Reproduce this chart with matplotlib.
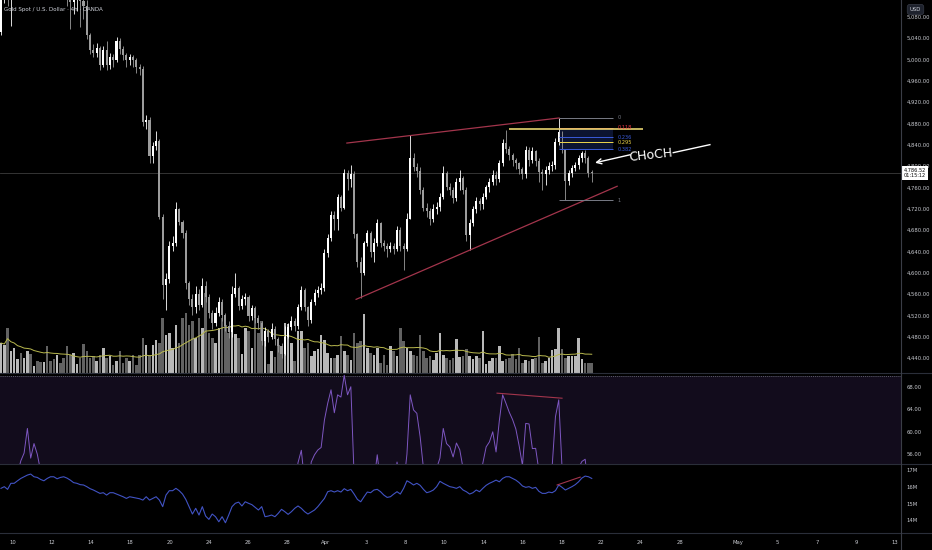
import matplotlib
matplotlib.use("Agg")
import matplotlib.pyplot as plt
from matplotlib.lines import Line2D
import numpy as np
import pandas as pd

# ---- data (4h XAUUSD bars) ----
first_open = 5052
closes = [5118, 5125, 5120, 5130, 5140, 5150, 5145, 5158, 5165, 5155,
          5170, 5162, 5150, 5160, 5148, 5140, 5135, 5145, 5138, 5128,
          5120, 5108, 5118, 5122, 5110, 5100, 5045, 5018, 5012, 5022,
          4990, 5017, 4990, 5005, 4998, 5035, 5020, 5008, 4998, 5004,
          4999, 4985, 4982, 4882, 4886, 4818, 4838, 4846, 4705, 4577,
          4588, 4650, 4655, 4720, 4695, 4675, 4580, 4550, 4535, 4560,
          4540, 4575, 4555, 4525, 4505, 4525, 4545, 4520, 4500, 4488,
          4560, 4572, 4538, 4550, 4555, 4518, 4534, 4515, 4505, 4472,
          4490, 4480, 4495, 4475, 4462, 4448, 4480, 4498, 4510, 4500,
          4535, 4567, 4535, 4512, 4545, 4562, 4568, 4572, 4637, 4665,
          4708, 4700, 4742, 4722, 4787, 4775, 4785, 4672, 4620, 4600,
          4655, 4675, 4638, 4656, 4693, 4655, 4650, 4645, 4650, 4645,
          4680, 4650, 4645, 4700, 4815, 4798, 4790, 4755, 4722, 4715,
          4700, 4720, 4724, 4742, 4787, 4760, 4755, 4740, 4770, 4778,
          4755, 4670, 4693, 4720, 4735, 4728, 4742, 4760, 4770, 4783,
          4775, 4806, 4843, 4832, 4820, 4812, 4805, 4795, 4785, 4830,
          4812, 4828, 4810, 4788, 4785, 4792, 4800, 4802, 4845, 4864,
          4830, 4772, 4787, 4796, 4802, 4815, 4824, 4815, 4787, 4786.52]
highs = [5140, 5150, 5145, 5150, 5160, 5168, 5165, 5175, 5185, 5178,
         5190, 5185, 5172, 5180, 5170, 5160, 5158, 5165, 5160, 5150,
         5145, 5140, 5135, 5140, 5130, 5125, 5112, 5050, 5028, 5030,
         5025, 5025, 5035, 5012, 5010, 5042, 5040, 5025, 5012, 5010,
         5008, 5002, 4992, 4988, 4895, 4892, 4845, 4865, 4850, 4710,
         4600, 4660, 4668, 4732, 4722, 4698, 4680, 4585, 4560, 4575,
         4570, 4590, 4585, 4560, 4530, 4535, 4555, 4550, 4525, 4510,
         4575, 4600, 4575, 4558, 4562, 4558, 4540, 4538, 4520, 4510,
         4498, 4495, 4505, 4500, 4480, 4468, 4500, 4505, 4518, 4515,
         4542, 4575, 4572, 4538, 4550, 4570, 4575, 4580, 4645, 4672,
         4715, 4715, 4748, 4745, 4795, 4792, 4802, 4790, 4675, 4630,
         4660, 4680, 4678, 4665, 4700, 4695, 4662, 4655, 4657, 4655,
         4688, 4685, 4655, 4712, 4858, 4825, 4805, 4798, 4760, 4730,
         4722, 4728, 4732, 4750, 4800, 4790, 4768, 4760, 4778, 4792,
         4782, 4760, 4700, 4725, 4742, 4740, 4750, 4765, 4778, 4792,
         4790, 4812, 4850, 4868, 4838, 4825, 4815, 4808, 4798, 4838,
         4835, 4835, 4830, 4815, 4795, 4800, 4808, 4810, 4852, 4890,
         4866, 4832, 4792, 4802, 4808, 4820, 4828, 4830, 4818, 4792]
lows = [5045, 5105, 5100, 5062, 5118, 5128, 5125, 5135, 5140, 5135,
        5148, 5140, 5130, 5138, 5125, 5120, 5116, 5118, 5115, 5114,
        5100, 5056, 5085, 5090, 5060, 5075, 5038, 5010, 5005, 5005,
        4980, 4985, 4980, 4982, 4985, 4995, 5010, 4998, 4985, 4990,
        4985, 4975, 4970, 4875, 4870, 4805, 4805, 4830, 4700, 4550,
        4530, 4580, 4640, 4650, 4690, 4665, 4570, 4540, 4520, 4525,
        4530, 4535, 4545, 4515, 4495, 4500, 4518, 4510, 4490, 4478,
        4480, 4555, 4530, 4532, 4540, 4510, 4512, 4505, 4495, 4465,
        4462, 4470, 4475, 4465, 4452, 4440, 4445, 4478, 4492, 4490,
        4495, 4530, 4528, 4500, 4505, 4540, 4555, 4560, 4565, 4630,
        4660, 4680, 4680, 4715, 4720, 4755, 4760, 4665, 4610, 4552,
        4595, 4650, 4630, 4620, 4650, 4648, 4640, 4630, 4638, 4635,
        4640, 4640, 4605, 4640, 4700, 4790, 4780, 4748, 4715, 4705,
        4690, 4695, 4710, 4715, 4738, 4755, 4745, 4730, 4735, 4755,
        4748, 4660, 4642, 4688, 4712, 4718, 4720, 4738, 4752, 4765,
        4765, 4770, 4800, 4825, 4812, 4800, 4795, 4785, 4775, 4778,
        4800, 4805, 4800, 4770, 4755, 4765, 4785, 4790, 4795, 4840,
        4825, 4736, 4765, 4780, 4790, 4795, 4808, 4805, 4780, 4770]
volume_k = [30, 28, 45, 22, 25, 14, 20, 15, 22, 19,
            7, 12, 11, 11, 27, 12, 14, 18, 10, 15,
            27, 18, 20, 9, 15, 29, 22, 15, 17, 12,
            18, 25, 15, 17, 8, 12, 22, 10, 15, 12,
            18, 8, 18, 35, 28, 18, 28, 33, 30, 55,
            38, 40, 25, 48, 30, 55, 60, 48, 52, 35,
            55, 45, 80, 40, 35, 30, 45, 55, 48, 40,
            75, 39, 35, 19, 45, 42, 25, 55, 40, 52,
            39, 9, 22, 16, 28, 19, 50, 49, 30, 12,
            42, 42, 25, 30, 17, 22, 24, 38, 33, 20,
            15, 15, 18, 37, 22, 18, 13, 40, 30, 32,
            59, 25, 20, 18, 25, 10, 18, 8, 27, 22,
            17, 45, 32, 25, 22, 18, 17, 38, 22, 15,
            17, 13, 20, 40, 18, 15, 13, 15, 34, 16,
            17, 24, 17, 14, 17, 15, 42, 9, 12, 15,
            15, 27, 12, 14, 15, 19, 14, 25, 10, 13,
            12, 14, 15, 36, 10, 12, 15, 23, 24, 45,
            24, 15, 17, 17, 17, 35, 14, 10, 10, 10]
rsi = [52, 53, 52.5, 53, 51.5, 52.5, 54.8, 56.2, 60.6, 55.3,
       57.9, 56.0, 53.0, 51.5, 50, 48.5, 48, 50, 49, 47.5,
       46.5, 44.5, 46, 47, 45, 43.5, 37, 34.5, 34, 35.5,
       32.5, 36, 33, 35, 34.5, 39, 37.5, 36, 35, 36,
       35.5, 34, 33.5, 26, 27, 23, 26, 27, 20, 15,
       17, 26, 27, 35, 33, 31.5, 25, 23.5, 23, 26,
       25, 29, 28, 26, 25, 27.5, 30, 28, 26.5, 25.5,
       34, 35.5, 32.5, 34, 34.5, 31.5, 33.5, 32, 31, 29,
       31.5, 30.5, 33, 31, 30, 29, 45, 48, 51, 50,
       54.5, 56.7, 51, 48, 54.6, 55.9, 56.75, 57.2, 62.1, 65.1,
       67.5, 63.4, 66.6, 66.2, 70.1, 66.6, 68.05, 52, 46, 44,
       50, 52.5, 48.5, 51, 55.9, 51, 50.5, 50, 50.8, 50.2,
       54.6, 51, 50.5, 56.0, 66.6, 63.9, 63.3, 59.1, 53.5, 52.5,
       50.5, 53, 53.5, 55.3, 60.6, 57.9, 57.3, 55.5, 58.0, 56.8,
       53.5, 45, 48, 51, 52.5, 51.5, 54.4, 57.3, 58.2, 60.0,
       56.4, 62.0, 66.6, 65.1, 63.5, 62.2, 60.5, 57.5, 54.0, 61.5,
       61.4, 57.0, 57.05, 53.0, 51.5, 52.5, 53.5, 53.8, 62.7, 65.7,
       53.5, 45, 48, 50, 51, 53.5, 54.7, 55.1, 50, 49.5]
obv_m = [15.91, 16.01, 15.85, 16.21, 16.21, 16.36, 16.50, 16.60, 16.70, 16.76,
         16.60, 16.56, 16.44, 16.36, 16.50, 16.60, 16.60, 16.48, 16.56, 16.60,
         16.52, 16.40, 16.25, 16.21, 16.13, 16.11, 16.01, 15.89, 15.81, 15.71,
         15.61, 15.65, 15.51, 15.65, 15.65, 15.57, 15.49, 15.41, 15.31, 15.41,
         15.37, 15.33, 15.29, 15.21, 15.41, 15.21, 15.31, 15.41, 15.21, 14.82,
         15.51, 15.77, 15.77, 15.91, 15.77, 15.57, 15.25, 14.82, 14.38, 14.72,
         14.32, 14.82, 14.26, 14.06, 14.38, 14.22, 13.92, 14.22, 13.86, 14.32,
         14.82, 15.02, 15.09, 14.86, 15.11, 15.02, 14.94, 14.78, 14.62, 14.82,
         14.22, 14.26, 14.32, 14.22, 14.42, 14.66, 14.52, 14.36, 14.52, 14.72,
         14.86, 14.72, 14.52, 14.38, 14.50, 14.62, 14.82, 15.06, 15.31, 15.71,
         15.77, 15.69, 15.77, 15.69, 15.89, 15.77, 15.85, 15.57, 15.25, 15.11,
         15.41, 15.69, 15.65, 15.81, 15.85, 15.71, 15.51, 15.37, 15.41, 15.57,
         15.71, 15.57, 15.91, 16.36, 16.25, 16.11, 16.21, 16.09, 15.85, 15.65,
         15.71, 15.81, 16.01, 16.33, 16.21, 16.11, 16.01, 15.97, 15.91, 16.01,
         15.81, 15.71, 15.57, 15.65, 15.81, 15.71, 15.91, 16.09, 16.21, 16.30,
         16.40, 16.30, 16.50, 16.60, 16.60, 16.50, 16.40, 16.25, 16.05, 15.97,
         16.01, 15.91, 15.97, 15.73, 15.61, 15.61, 15.69, 15.65, 15.77, 16.11,
         15.97, 15.81, 15.91, 16.01, 16.13, 16.30, 16.52, 16.64, 16.60, 16.50]

date_labels = ["10", "12", "14", "18", "20", "24", "26", "28", "Apr", "3", "8", "10",
               "14", "16", "18", "22", "24", "28", "May", "5", "7", "9", "13"]
date_pos = [3.6, 15.5, 27.3, 39.1, 51.2, 63.0, 74.8, 86.7, 98.5, 110.6, 122.4, 134.2,
            146.3, 158.2, 170.0, 181.8, 193.6, 205.7, 223.3, 235.3, 247.3, 259.1, 270.9]
price_ticks = list(range(4440, 5081, 40))

# drawings
wedge_top = ([104.8, 169.1], [4843, 4890])
wedge_bottom = ([107.6, 186.7], [4550, 4762])
rsi_div = ([150.3, 170.0], [66.9, 66.0])
obv_div = ([168.5, 175.5], [16.11, 16.58])
fib_high, fib_low = 4890, 4736
fib_levels = [0, 0.118, 0.236, 0.295, 0.382, 1]
fib_colors = ["#787b86", "#f23645", "#3a5bd9", "#f0d84a", "#3a5bd9", "#787b86"]
fib_span = (169, 185.5)
yellow_level = 4870
yellow_span = (154, 194.5)

BG = "#000000"
TXT = "#c8cad0"
GRID = "#2a2e39"
UP, DOWN = "#ffffff", "#9c9c9c"
VUP, VDOWN = "#b8b8b8", "#626262"
RED = "#a3354c"

plt.rcParams["font.family"] = ["DejaVu Sans"]
plt.rcParams["font.size"] = 3.8

fig = plt.figure(figsize=(9.32, 5.5), dpi=100, facecolor=BG)
W, H = 932.0, 550.0
right = 901 / W
ax = fig.add_axes([0, 1 - 373 / H, right, 373 / H])
axr = fig.add_axes([0, 1 - 464 / H, right, 91 / H], sharex=ax)
axo = fig.add_axes([0, 1 - 533 / H, right, 69 / H], sharex=ax)

idx = np.arange(len(closes))
c = np.array(closes, dtype=float)
o = np.array([first_open] + closes[:-1], dtype=float)
h = np.maximum(np.array(highs, dtype=float), np.maximum(o, c))
l = np.minimum(np.array(lows, dtype=float), np.minimum(o, c))
up = c >= o
ccol = np.where(up, UP, DOWN)

# volume overlay
axv = ax.twinx()
axv.bar(idx, volume_k, width=0.78, color=np.where(up, VUP, VDOWN), linewidth=0)
vma = pd.Series(volume_k).rolling(20, min_periods=1).mean()
axv.plot(idx, vma, color="#b9b94e", lw=0.7)
axv.set_ylim(0, 373)
axv.axis("off")
ax.set_zorder(axv.get_zorder() + 1)
ax.patch.set_visible(False)

# candles
ax.vlines(idx, l, h, colors=ccol, lw=0.6)
ax.bar(idx, np.maximum(np.abs(c - o), 1.5), bottom=np.minimum(o, c), width=0.62,
       color=ccol, linewidth=0)
ax.axhline(c[-1], color="#3c3c3c", lw=0.6, zorder=0)

ax.plot(*wedge_top, color=RED, lw=0.9)
ax.plot(*wedge_bottom, color=RED, lw=0.9)

rng = fib_high - fib_low
fib_prices = [fib_high - lv * rng for lv in fib_levels]
ax.fill_between(fib_span, fib_prices[1], fib_prices[4], color="#0c1430", lw=0)
for lv, pr, col in zip(fib_levels, fib_prices, fib_colors):
    ax.hlines(pr, *fib_span, colors=col, lw=0.7)
    ax.text(fib_span[1] + 1.2, pr, f"{lv:g}", color=col, fontsize=3.6, va="center")
ax.hlines(yellow_level, *yellow_span, colors="#e6d36f", lw=1.2)

# CHoCH note
ax.annotate("", xy=(180.0, 4806), xytext=(190.6, 4821),
            arrowprops=dict(arrowstyle="->", color="white", lw=1.0,
                            shrinkA=0, shrinkB=0, mutation_scale=9))
ax.text(197.0, 4820.5, "CHoCH", color="white", fontsize=9, rotation=6,
        ha="center", va="center", family=["Liberation Sans Narrow", "DejaVu Sans"])
ax.plot([203.7, 214.8], [4825, 4840], color="white", lw=1.0)

ax.set_ylim(4411.9, 5111.2)
ax.set_xlim(-0.3, 272.7)
ax.yaxis.tick_right()
ax.set_yticks(price_ticks, [f"{p:,.2f}" for p in price_ticks])
ax.text(1.003, c[-1], f"{c[-1]:,.2f}\n01:15:12", transform=ax.get_yaxis_transform(),
        color="black", fontsize=3.6, va="center", ha="left", linespacing=1.15,
        bbox=dict(boxstyle="square,pad=0.35", fc="white", ec="none"), clip_on=False)

# RSI pane
axr.fill_between([-5, 300], 30, 70, color="#120c1c", lw=0)
axr.axhline(70, color="#787b86", lw=0.5, ls=(0, (1.5, 1.5)))
axr.plot(idx, rsi, color="#7e57c2", lw=0.7)
axr.plot(*rsi_div, color=RED, lw=0.8)
axr.set_ylim(54.25, 70.5)
axr.yaxis.tick_right()
axr.set_yticks([56, 60, 64, 68], ["56.00", "60.00", "64.00", "68.00"])

# OBV pane
axo.plot(idx, obv_m, color="#4153c4", lw=0.8)
axo.plot(*obv_div, color=RED, lw=0.8)
axo.set_ylim(13.25, 17.36)
axo.yaxis.tick_right()
axo.set_yticks([14, 15, 16, 17], ["14M", "15M", "16M", "17M"])
axo.set_xticks(date_pos, date_labels)

for a in (ax, axr, axo):
    a.set_facecolor(BG)
    for s in a.spines.values():
        s.set_visible(False)
    a.tick_params(axis="y", length=0, pad=4, colors=TXT, labelsize=3.8)
    a.tick_params(axis="x", length=0, colors=TXT, labelsize=3.8, pad=5)
ax.tick_params(axis="x", labelbottom=False)
axr.tick_params(axis="x", labelbottom=False)
ax.patch.set_visible(False)

for yy in (373, 464, 533):
    fig.add_artist(Line2D([0, 1], [1 - yy / H] * 2, color=GRID, lw=0.8))
fig.add_artist(Line2D([right, right], [0, 1], color="#3a3d46", lw=0.8))

fig.text(4 / W, 1 - 10 / H, "Gold Spot / U.S. Dollar \u00b7 4h \u00b7 OANDA",
         color="#d1d4dc", fontsize=4.0, va="center")
fig.text(915.5 / W, 1 - 9.5 / H, "USD", color="#d1d4dc", fontsize=3.8, ha="center",
         va="center", bbox=dict(boxstyle="round,pad=0.5", fc="#1e222d", ec="#363a45", lw=0.5))

fig.savefig("out.png", dpi=100, facecolor=BG)
